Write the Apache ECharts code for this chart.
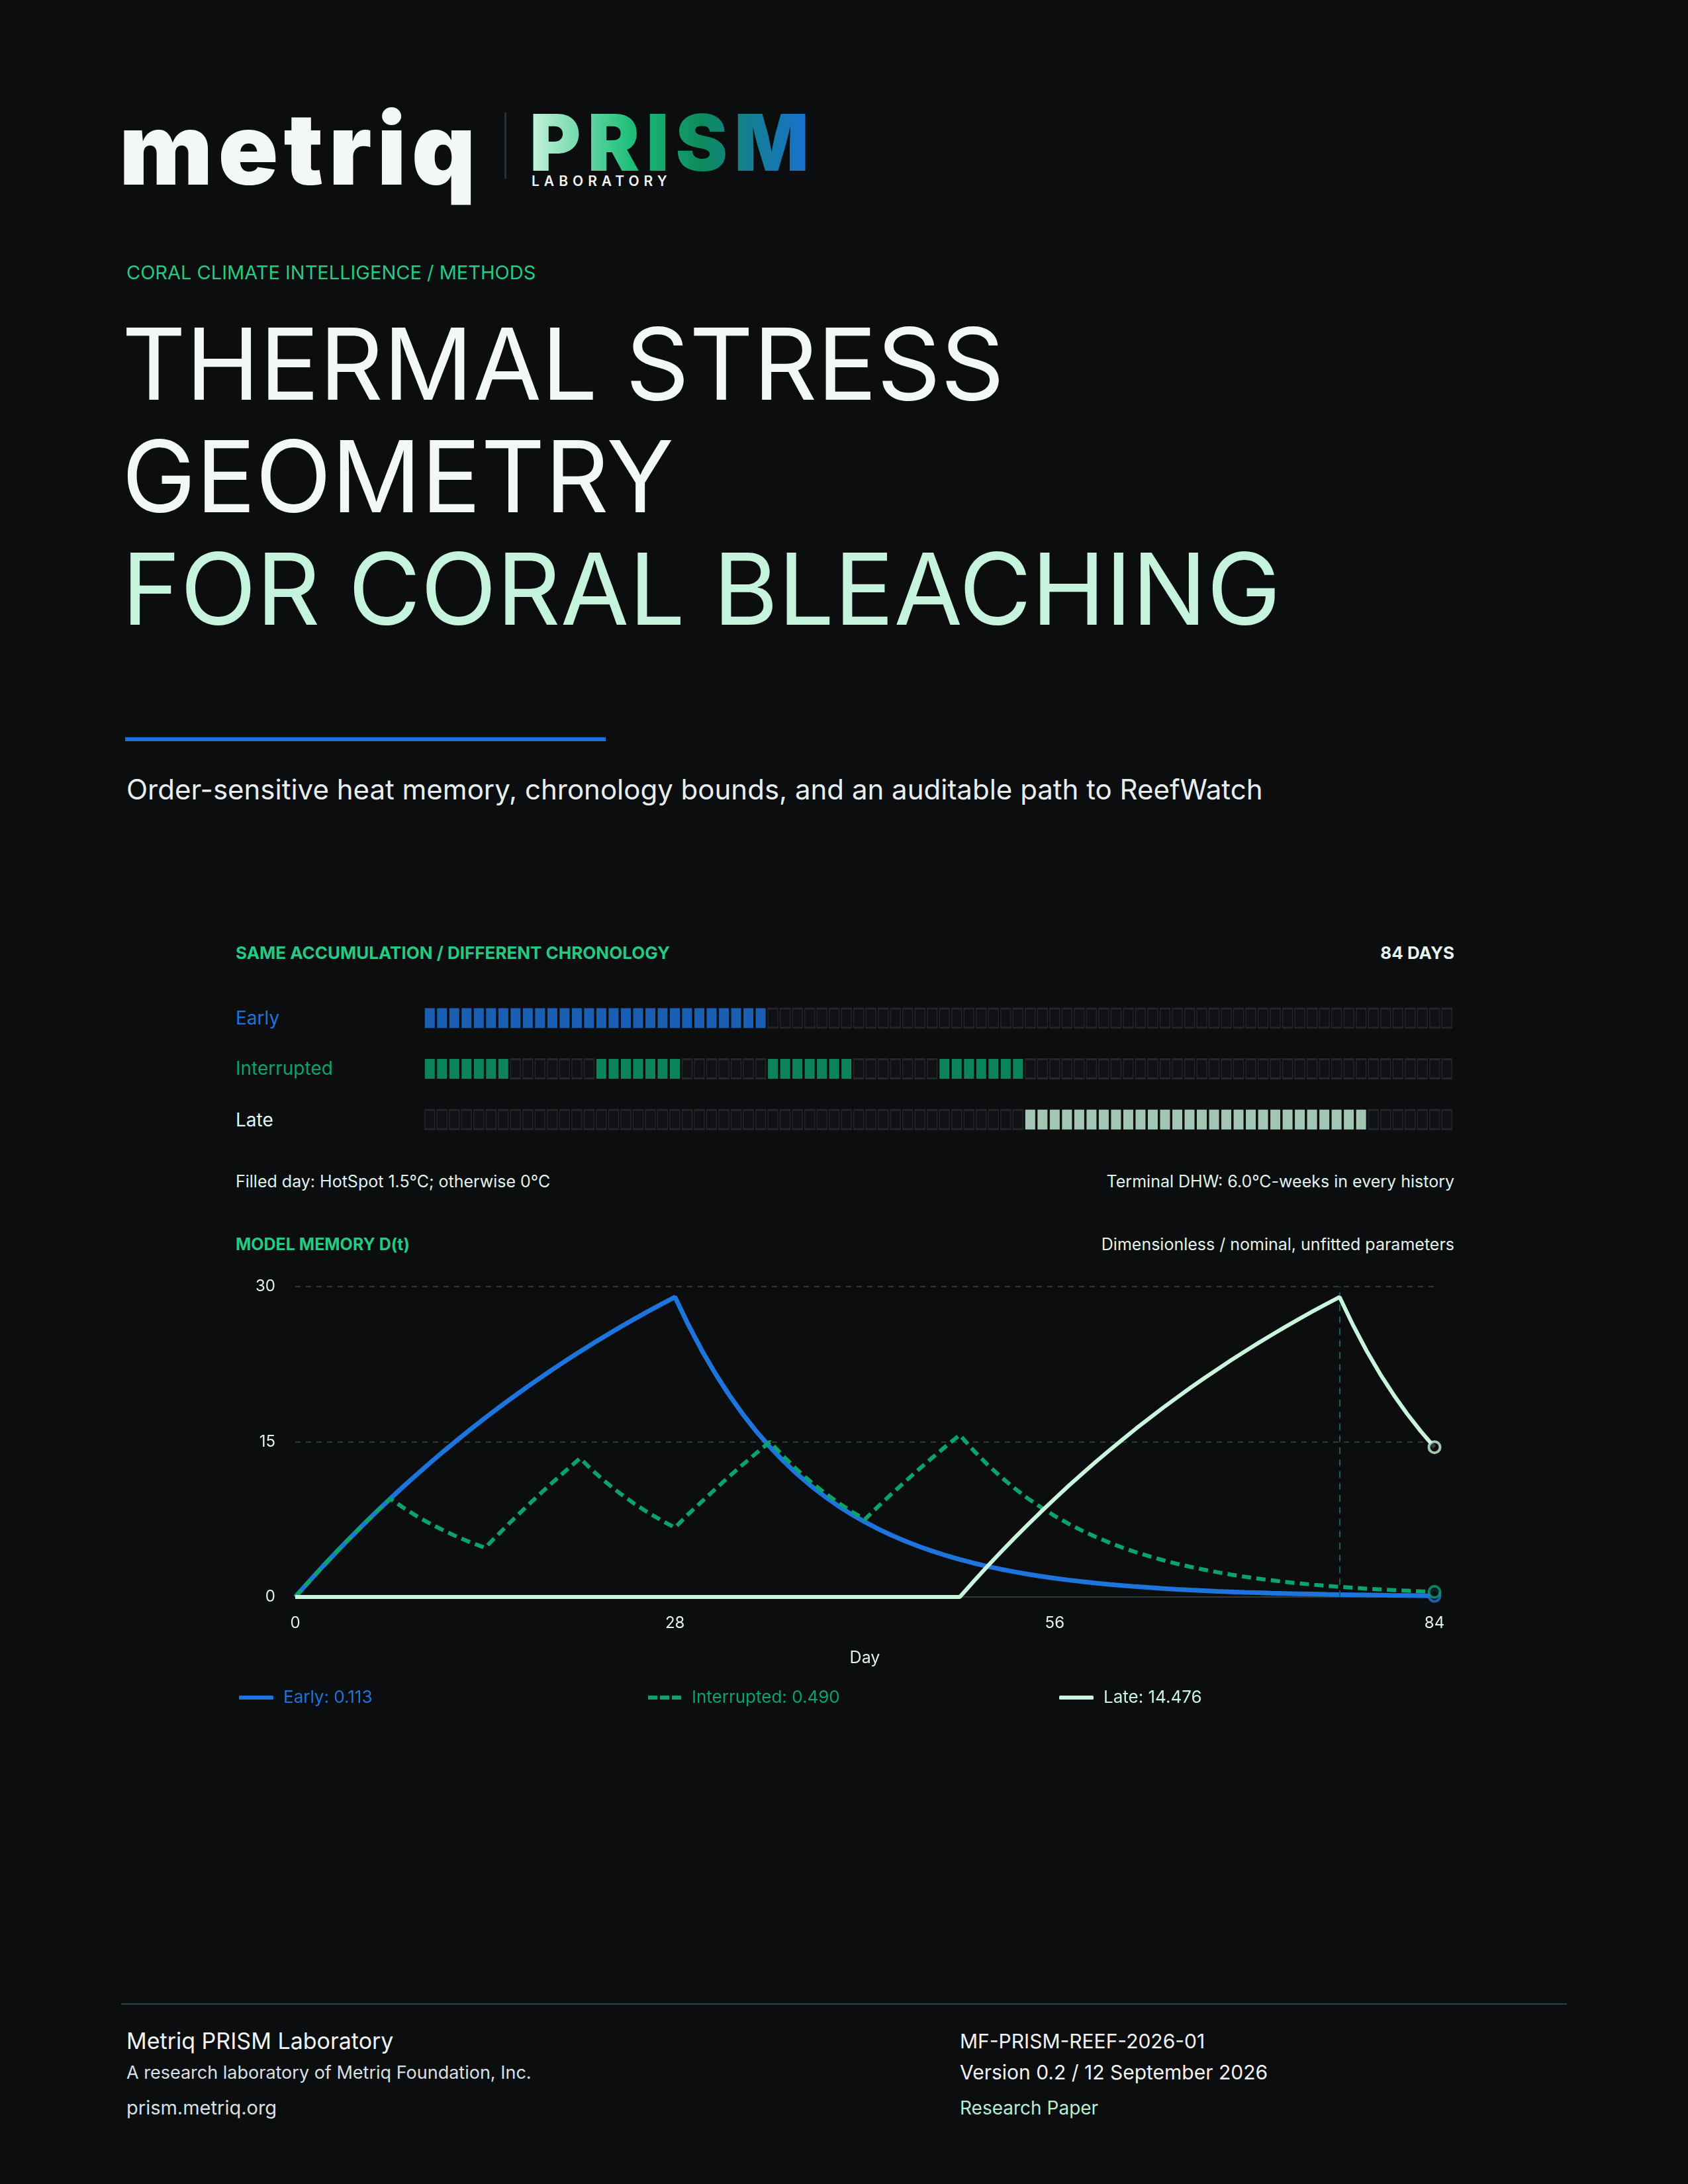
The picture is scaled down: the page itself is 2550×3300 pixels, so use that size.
<!DOCTYPE html>
<html>
<head>
<meta charset="utf-8">
<script src="https://cdn.jsdelivr.net/npm/echarts@6/dist/echarts.min.js"></script>
<style>
  html, body { margin: 0; padding: 0; background: #0b0d0f; }
  body { width: 2550px; height: 3300px; position: relative; font-family: Inter, "Noto Sans", sans-serif; overflow: hidden; }
  .t { position: absolute; white-space: nowrap; line-height: 1; }
</style>
</head>
<body>
<!-- header / logo -->
<div class="t" style="left:180px;top:150px;font-size:150px;font-weight:900;color:#f4f7f8;letter-spacing:8px;">metriq</div>
<div style="position:absolute;left:762px;top:170px;width:3px;height:100px;background:#2a2f33;"></div>
<div class="t" style="left:800px;top:156px;font-size:118px;font-weight:900;letter-spacing:10px;background:linear-gradient(90deg,#c6f3dd 0%,#1fbf7a 35%,#0c8a5e 60%,#1a6fd6 100%);-webkit-background-clip:text;color:transparent;">PRISM</div>
<div class="t" style="left:803px;top:263px;font-size:21px;font-weight:600;color:#f0f3f4;letter-spacing:7px;">LABORATORY</div>

<div class="t" style="left:191px;top:397px;font-size:29px;color:#25c984;">CORAL CLIMATE INTELLIGENCE / METHODS</div>
<div class="t" style="left:184px;top:475px;font-size:150px;color:#f4f7f8;">THERMAL STRESS</div>
<div class="t" style="left:184px;top:645px;font-size:150px;color:#f4f7f8;">GEOMETRY</div>
<div class="t" style="left:184px;top:815px;font-size:150px;color:#c6f3dd;">FOR CORAL BLEACHING</div>
<div style="position:absolute;left:189px;top:1114px;width:726px;height:6px;background:#1e6fd9;"></div>
<div class="t" style="left:191px;top:1172px;font-size:42px;color:#e8eef0;">Order-sensitive heat memory, chronology bounds, and an auditable path to ReefWatch</div>

<!-- panel text -->
<div class="t" style="left:356px;top:1427px;font-size:26px;font-weight:700;color:#25c984;">SAME ACCUMULATION / DIFFERENT CHRONOLOGY</div>
<div class="t" style="right:353px;top:1427px;font-size:26px;font-weight:700;color:#e6f5ee;">84 DAYS</div>
<div class="t" style="left:356px;top:1524px;font-size:28px;color:#1e74dd;">Early</div>
<div class="t" style="left:356px;top:1600px;font-size:28px;color:#0aa36a;">Interrupted</div>
<div class="t" style="left:356px;top:1678px;font-size:28px;color:#e6f5ee;">Late</div>
<div class="t" style="left:356px;top:1773px;font-size:25px;color:#e0f2e9;">Filled day: HotSpot 1.5°C; otherwise 0°C</div>
<div class="t" style="right:353px;top:1773px;font-size:25px;color:#e0f2e9;">Terminal DHW: 6.0°C-weeks in every history</div>
<div class="t" style="left:356px;top:1868px;font-size:25px;font-weight:700;color:#25c984;">MODEL MEMORY D(t)</div>
<div class="t" style="right:353px;top:1868px;font-size:25px;color:#e0f2e9;">Dimensionless / nominal, unfitted parameters</div>

<div id="chart" style="position:absolute;left:0;top:1480px;width:2550px;height:1140px;"></div>

<!-- footer -->
<div style="position:absolute;left:183px;top:3027px;width:2184px;height:2px;background:#1c4a40;"></div>
<div class="t" style="left:191px;top:3067px;font-size:34px;color:#f0f3f4;">Metriq PRISM Laboratory</div>
<div class="t" style="left:191px;top:3118px;font-size:27px;color:#d8e0e3;">A research laboratory of Metriq Foundation, Inc.</div>
<div class="t" style="left:191px;top:3170px;font-size:29px;color:#d8e0e3;">prism.metriq.org</div>
<div class="t" style="left:1450px;top:3069px;font-size:30px;color:#f0f3f4;">MF-PRISM-REEF-2026-01</div>
<div class="t" style="left:1450px;top:3116px;font-size:30px;color:#f0f3f4;">Version 0.2 / 12 September 2026</div>
<div class="t" style="left:1450px;top:3171px;font-size:28px;color:#b8ecd2;">Research Paper</div>

<script>
// chronology strips: 1 = HotSpot day, 0 = no stress (84 days, one line per week)
const earlyDays = [
  1,1,1,1,1,1,1, 1,1,1,1,1,1,1, 1,1,1,1,1,1,1, 1,1,1,1,1,1,1,
  0,0,0,0,0,0,0, 0,0,0,0,0,0,0, 0,0,0,0,0,0,0, 0,0,0,0,0,0,0,
  0,0,0,0,0,0,0, 0,0,0,0,0,0,0, 0,0,0,0,0,0,0, 0,0,0,0,0,0,0];
const interruptedDays = [
  1,1,1,1,1,1,1, 0,0,0,0,0,0,0, 1,1,1,1,1,1,1, 0,0,0,0,0,0,0,
  1,1,1,1,1,1,1, 0,0,0,0,0,0,0, 1,1,1,1,1,1,1, 0,0,0,0,0,0,0,
  0,0,0,0,0,0,0, 0,0,0,0,0,0,0, 0,0,0,0,0,0,0, 0,0,0,0,0,0,0];
const lateDays = [
  0,0,0,0,0,0,0, 0,0,0,0,0,0,0, 0,0,0,0,0,0,0, 0,0,0,0,0,0,0,
  0,0,0,0,0,0,0, 0,0,0,0,0,0,0, 0,0,0,0,0,0,0, 1,1,1,1,1,1,1,
  1,1,1,1,1,1,1, 1,1,1,1,1,1,1, 1,1,1,1,1,1,1, 0,0,0,0,0,0,0];

// model memory D(t), day 0..84
const earlyMemory = [0,1.47,2.91,4.30,5.65,6.97,8.25,9.49,10.71,11.88,13.03,14.14,15.22,16.28,17.30,18.30,19.26,20.21,21.12,22.01,22.88,23.72,24.54,25.33,26.11,26.86,27.59,28.30,28.99,
  26.26,23.78,21.54,19.51,17.67,16.00,14.50,13.13,11.89,10.77,9.75,8.83,8.00,7.25,6.56,5.95,5.39,4.88,4.42,4.00,3.62,3.28,2.97,2.69,2.44,2.21,2.00,1.81,1.64,1.49,1.35,1.22,1.10,1.00,0.91,0.82,0.74,0.67,0.61,0.55,0.50,0.45,0.41,0.37,0.34,0.31,0.28,0.25,0.23,0.21,0.19,0.17,0.15,0.14,0.125,0.113];
const interruptedMemory = [0,1.47,2.91,4.30,5.65,6.97,8.25,9.49,8.60,7.78,7.05,6.39,5.78,5.24,4.75,
  6.09,7.40,8.67,9.90,11.10,12.27,13.40,12.14,10.99,9.96,9.02,8.17,7.40,6.70,
  8.03,9.24,10.46,11.65,12.79,13.91,15.00,13.59,12.30,11.14,10.10,9.14,8.28,7.50,
  8.77,10.00,11.19,12.36,13.49,14.59,15.66,
  14.18,12.85,11.64,10.54,9.54,8.65,7.83,7.09,6.42,5.82,5.27,4.77,4.32,3.92,3.55,3.21,2.91,2.64,2.39,2.16,1.96,1.77,1.61,1.45,1.32,1.19,1.08,0.98,0.89,0.80,0.73,0.66,0.60,0.54,0.49];
const lateMemory = [0,0,0,0,0,0,0,0,0,0,0,0,0,0,0,0,0,0,0,0,0,0,0,0,0,0,0,0,0,0,0,0,0,0,0,0,0,0,0,0,0,0,0,0,0,0,0,0,0,0,
  1.47,2.91,4.30,5.65,6.97,8.25,9.49,10.71,11.88,13.03,14.14,15.22,16.28,17.30,18.30,19.26,20.21,21.12,22.01,22.88,23.72,24.54,25.33,26.11,26.86,27.59,28.30,28.99,
  26.26,23.78,21.54,19.51,17.67,16.00,14.476];

const dayTicks = [0, 28, 56, 84];
const peakDay = 77;
const finalLabels = ['Early: 0.113', 'Interrupted: 0.490', 'Late: 14.476'];

const C_EARLY = '#1e74dd', C_INT = '#0aa36a', C_LATE = '#c8f5dc';

const stripRows = [
  { days: earlyDays, color: C_EARLY },
  { days: interruptedDays, color: C_INT },
  { days: lateDays, color: C_LATE }
];

const stripSeries = stripRows.map((row, r) => ({
  type: 'scatter', xAxisIndex: 0, yAxisIndex: 0, symbol: 'rect', silent: true,
  data: row.days.map((v, i) => ({
    value: [i, r],
    symbolSize: v ? [15, 30] : [15, 29],
    itemStyle: v ? { color: row.color, borderWidth: 0 }
                 : { color: '#101315', borderColor: '#2a2d30', borderWidth: 2 }
  }))
}));

const days = earlyMemory.map((_, i) => i);
const toXY = arr => arr.map((v, i) => [days[i], v]);

const dashIcon = 'path://M0,0h14v6h-14z M18,0h14v6h-14z M36,0h14v6h-14z';

const chart = echarts.init(document.getElementById('chart'));
chart.setOption({
  backgroundColor: 'transparent',
  animation: false,
  textStyle: { fontFamily: 'Inter' },
  grid: [
    { left: 640, right: 355, top: 20, height: 230 },
    { left: 446, right: 383, top: 464, height: 469 }
  ],
  xAxis: [
    { gridIndex: 0, type: 'category', data: days.slice(0, 84), show: false },
    { gridIndex: 1, type: 'value', min: 0, max: 84, interval: 28,
      name: 'Day', nameLocation: 'middle', nameGap: 80,
      nameTextStyle: { color: '#e0f2e9', fontSize: 25 },
      axisLine: { show: true, lineStyle: { color: '#33383b', width: 2 } },
      axisTick: { show: false }, splitLine: { show: false },
      axisLabel: { color: '#e0f2e9', fontSize: 24, margin: 28,
        formatter: v => dayTicks.includes(v) ? String(v) : '' } }
  ],
  yAxis: [
    { gridIndex: 0, type: 'category', data: ['Early', 'Interrupted', 'Late'], inverse: true, show: false },
    { gridIndex: 1, type: 'value', min: 0, max: 30, interval: 15,
      axisLine: { show: false }, axisTick: { show: false },
      axisLabel: { color: '#e0f2e9', fontSize: 24, margin: 30 },
      splitLine: { lineStyle: { color: '#2c3a36', type: [8, 8], width: 2 } } }
  ],
  legend: [
    { left: 356, top: 1067, data: [{ name: 'Early', icon: 'roundRect' }], itemWidth: 52, itemHeight: 6,
      textStyle: { color: C_EARLY, fontSize: 26, padding: [0, 0, 0, 10] },
      formatter: () => finalLabels[0] },
    { left: 974, top: 1067, data: [{ name: 'Interrupted', icon: dashIcon }], itemWidth: 52, itemHeight: 6,
      textStyle: { color: C_INT, fontSize: 26, padding: [0, 0, 0, 10] },
      formatter: () => finalLabels[1] },
    { left: 1595, top: 1067, data: [{ name: 'Late', icon: 'roundRect' }], itemWidth: 52, itemHeight: 6,
      textStyle: { color: C_LATE, fontSize: 26, padding: [0, 0, 0, 10] },
      formatter: () => finalLabels[2] }
  ],
  series: [
    ...stripSeries,
    { name: 'Early', type: 'line', xAxisIndex: 1, yAxisIndex: 1, data: toXY(earlyMemory),
      showSymbol: false, symbol: 'none', lineStyle: { color: C_EARLY, width: 7 }, itemStyle: { color: C_EARLY }, z: 3 },
    { name: 'Interrupted', type: 'line', xAxisIndex: 1, yAxisIndex: 1, data: toXY(interruptedMemory),
      showSymbol: false, symbol: 'none', lineStyle: { color: C_INT, width: 6, type: [14, 8] }, itemStyle: { color: C_INT }, z: 4 },
    { name: 'Late', type: 'line', xAxisIndex: 1, yAxisIndex: 1, data: toXY(lateMemory),
      showSymbol: false, symbol: 'none', lineStyle: { color: C_LATE, width: 6 }, itemStyle: { color: C_LATE }, z: 5,
      markLine: { silent: true, symbol: 'none', label: { show: false },
        lineStyle: { color: '#1b5a50', type: [10, 8], width: 2 }, data: [{ xAxis: peakDay }] } },
    ...[[earlyMemory, C_EARLY], [interruptedMemory, C_INT], [lateMemory, C_LATE]].map(([arr, c]) => ({
      type: 'scatter', xAxisIndex: 1, yAxisIndex: 1, symbol: 'circle', symbolSize: 17, z: 6, silent: true,
      data: [[84, arr[84]]], itemStyle: { color: '#0b0d0f', borderColor: c, borderWidth: 4 }
    }))
  ]
});
</script>
</body>
</html>
